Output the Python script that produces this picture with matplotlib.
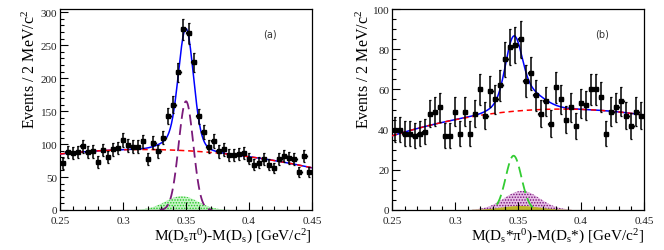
import numpy as np
import matplotlib
matplotlib.use("Agg")
import matplotlib.pyplot as plt
from matplotlib.ticker import MultipleLocator

plt.rcParams['font.family'] = ['Liberation Serif', 'DejaVu Serif']
plt.rcParams['mathtext.fontset'] = 'custom'
plt.rcParams['mathtext.rm'] = 'Liberation Serif'
plt.rcParams['mathtext.it'] = 'Liberation Serif:italic'
plt.rcParams['hatch.linewidth'] = 0.7

# bin centres (4 MeV steps between 0.25 and 0.45)
bins = np.arange(50) * 0.004 + 0.252

# panel (a): D_s pi0 - D_s
counts_a = [71, 88, 86, 88, 97, 88, 89, 73, 91, 81, 92, 94,
            106, 98, 96, 96, 104, 77, 102, 89, 110, 143, 160, 209, 274,
            268, 224, 142, 118, 96, 105, 89, 92, 83, 83, 85, 87,
            78, 69, 72, 77, 69, 64, 77, 82, 79, 77, 57, 82, 58]
# panel (b): D_s* pi0 - D_s*
counts_b = [40, 40, 38, 38, 37, 38, 39, 48, 49, 51, 37, 37, 49,
            38, 49, 38, 48, 60, 47, 59, 55, 62, 75, 81, 82,
            85, 64, 68, 57, 48, 54, 43, 61, 55, 45, 51, 42,
            53, 52, 60, 60, 56, 38, 49, 51, 54, 47, 42, 49, 47]

# fit components
# background: a + b*(x-0.35) + c*(x-0.35)^2
bkg_a = [90.0, -105.0, -1550.0]
bkg_b = [49.3, 51.5, -725.0]
# gaussians: amplitude, mean, sigma
sig_a = [165.0, 0.350, 0.0058]
peak_a = [21.0, 0.3465, 0.013]
sig_b = [27.0, 0.3465, 0.0062]
purple_b = [9.5, 0.353, 0.0143]
yellow_b = [2.0, 0.352, 0.015]


def poly(x, p):
    t = x - 0.35
    return p[0] + p[1] * t + p[2] * t * t


def gaus(x, p):
    return p[0] * np.exp(-0.5 * ((x - p[1]) / p[2]) ** 2)


xs = np.linspace(0.25, 0.45, 600)

fig = plt.figure(figsize=(6.64, 2.51), dpi=100)
ax1 = fig.add_axes([60 / 664, 40 / 251, 252 / 664, 201 / 251])
ax2 = fig.add_axes([392 / 664, 40 / 251, 252 / 664, 201 / 251])


def style(ax, ymax, ymaj, ymin):
    ax.set_xlim(0.25, 0.45)
    ax.set_ylim(0, ymax)
    ax.xaxis.set_major_locator(MultipleLocator(0.05))
    ax.xaxis.set_minor_locator(MultipleLocator(0.01))
    ax.yaxis.set_major_locator(MultipleLocator(ymaj))
    ax.yaxis.set_minor_locator(MultipleLocator(ymin))
    ax.tick_params(which='both', direction='in', top=False, right=False,
                   width=0.8, labelsize=8, labelcolor='#222222')
    ax.tick_params(which='major', length=6)
    ax.tick_params(which='minor', length=3)
    ax.tick_params(axis='x', pad=4)
    ax.tick_params(axis='y', pad=2)
    ax.xaxis.set_major_formatter(plt.FuncFormatter(lambda v, p: ('%g' % v)))
    for s in ax.spines.values():
        s.set_linewidth(0.9)


def points(ax, counts):
    c = np.array(counts, dtype=float)
    ax.errorbar(bins, c, yerr=np.sqrt(c), xerr=0.0018, fmt='s', ms=2.2,
                color='black', ecolor='black', elinewidth=1.1, capsize=1.0,
                capthick=0.9, zorder=5)


# ---- panel (a)
style(ax1, 305, 50, 10)
green = gaus(xs, peak_a)
m = green > 0.3
ax1.fill_between(xs[m], 0, green[m], facecolor='#c8f2c8', edgecolor='#22cc22',
                 hatch='......', linewidth=0, zorder=1)
ms = (xs > 0.329) & (xs < 0.371)
ax1.plot(xs[ms], gaus(xs[ms], sig_a), color='#7a1a7a', lw=1.3,
         linestyle=(0, (6, 3)), zorder=2)
total_a = poly(xs, bkg_a) + gaus(xs, sig_a) + green
ax1.plot(xs, total_a, color='#0000ff', lw=1.1, zorder=3)
ax1.plot(xs, poly(xs, bkg_a), color='#ff0000', lw=1.1,
         linestyle=(0, (3.5, 2.5)), zorder=4)
points(ax1, counts_a)
ax1.set_xlabel(r'M(D$_\mathregular{s}$π$^\mathregular{0}$)-M(D$_\mathregular{s}$) [GeV/c$^\mathregular{2}$]',
               fontsize=11, loc='right')
ax1.xaxis.set_label_coords(1.0, -0.085)
ax1.set_ylabel(r'Events / 2 MeV/c$^\mathregular{2}$', fontsize=11.5, loc='top')
ax1.yaxis.set_label_coords(-0.085, 1.0)
ax1.text(0.833, 0.876, '(a)', transform=ax1.transAxes, fontsize=7,
         family='DejaVu Sans', color='#333333', ha='center', va='center')

# ---- panel (b)
style(ax2, 100, 20, 5)
purple = gaus(xs, purple_b)
yellow = gaus(xs, yellow_b)
mp = purple > 0.2
ax2.fill_between(xs[mp], 0, purple[mp], facecolor='#e6bfe6', edgecolor='#7a107a',
                 hatch='......', linewidth=0, zorder=1)
ax2.fill_between(xs[mp], 0, yellow[mp], facecolor='#bdb526', linewidth=0, zorder=1.5)
mg = (xs > 0.333) & (xs < 0.362)
ax2.plot(xs[mg], gaus(xs[mg], sig_b), color='#33cc33', lw=1.3,
         linestyle=(0, (6, 3)), zorder=2)
total_b = poly(xs, bkg_b) + gaus(xs, sig_b) + purple + yellow
ax2.plot(xs, total_b, color='#0000ff', lw=1.1, zorder=3)
ax2.plot(xs, poly(xs, bkg_b), color='#ff0000', lw=1.1,
         linestyle=(0, (3.5, 2.5)), zorder=4)
points(ax2, counts_b)
ax2.set_xlabel(r'M(D$_\mathregular{s}$*π$^\mathregular{0}$)-M(D$_\mathregular{s}$*) [GeV/c$^\mathregular{2}$]',
               fontsize=11, loc='right')
ax2.xaxis.set_label_coords(1.0, -0.085)
ax2.set_ylabel(r'Events / 2 MeV/c$^\mathregular{2}$', fontsize=11.5, loc='top')
ax2.yaxis.set_label_coords(-0.075, 1.0)
ax2.text(0.833, 0.876, '(b)', transform=ax2.transAxes, fontsize=7,
         family='DejaVu Sans', color='#333333', ha='center', va='center')

fig.savefig('out.png', dpi=100)
